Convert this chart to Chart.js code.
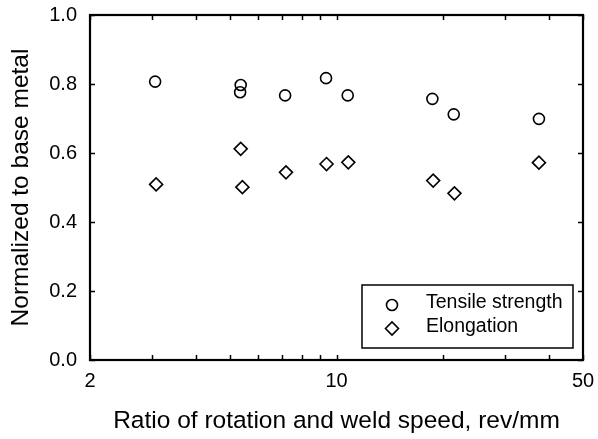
<!DOCTYPE html>
<html>
<head>
<meta charset="utf-8">
<script src="https://cdn.jsdelivr.net/npm/chart.js@4/dist/chart.umd.min.js"></script>
<style>
  html, body { margin: 0; padding: 0; background: #fff; }
  #wrap { width: 598px; height: 439px; }
</style>
</head>
<body>
<div id="wrap"><canvas id="chart" width="598" height="439"></canvas></div>
<script>
// rev/mm ratio vs normalized properties
const tensileRatio = [3.06, 5.35, 5.33, 7.15, 9.34, 10.76, 18.7, 21.5, 37.5];
const tensileValue = [0.807, 0.797, 0.776, 0.767, 0.817, 0.767, 0.757, 0.712, 0.699];
const elongRatio = [3.08, 5.35, 5.41, 7.19, 9.37, 10.8, 18.8, 21.6, 37.5];
const elongValue = [0.509, 0.612, 0.501, 0.544, 0.568, 0.573, 0.520, 0.483, 0.572];

const xTickValues = [2, 3, 4, 5, 6, 7, 8, 9, 10, 20, 30, 40, 50];
const xTickLabels = [2, 10, 50];
const seriesNames = ['Tensile strength', 'Elongation'];

const FONT = 'Arial, "Liberation Sans", Helvetica, sans-serif';

function toPoints(xs, ys) {
  return xs.map((x, i) => ({ x: x, y: ys[i] }));
}

// frame + inward tick marks on all four sides
const frameTicks = {
  id: 'frameTicks',
  afterDatasetsDraw(chart) {
    const { ctx, chartArea: a, scales } = chart;
    const len = 5;
    ctx.save();
    ctx.strokeStyle = '#000';
    ctx.lineWidth = 1.5;
    ctx.beginPath();
    scales.x.ticks.forEach(t => {
      const px = Math.round(scales.x.getPixelForValue(t.value)) + 0.5;
      ctx.moveTo(px, a.bottom); ctx.lineTo(px, a.bottom - len);
      ctx.moveTo(px, a.top); ctx.lineTo(px, a.top + len);
    });
    scales.y.ticks.forEach(t => {
      const py = Math.round(scales.y.getPixelForValue(t.value)) + 0.5;
      ctx.moveTo(a.left, py); ctx.lineTo(a.left + len, py);
      ctx.moveTo(a.right, py); ctx.lineTo(a.right - len, py);
    });
    ctx.stroke();
    ctx.lineWidth = 2.2;
    ctx.strokeRect(a.left, a.top, a.right - a.left, a.bottom - a.top);
    ctx.restore();
  }
};

// boxed legend in the lower right corner of the plot
const boxLegend = {
  id: 'boxLegend',
  afterDraw(chart) {
    const { ctx, chartArea: a } = chart;
    const w = 211, h = 63;
    const bx = a.right - 10 - w, by = a.bottom - 12 - h;
    ctx.save();
    ctx.fillStyle = '#fff';
    ctx.fillRect(bx, by, w, h);
    ctx.strokeStyle = '#000';
    ctx.lineWidth = 1.5;
    ctx.strokeRect(bx, by, w, h);
    chart.data.datasets.forEach((ds, i) => {
      const my = by + 20 + i * 23.5;
      ctx.strokeStyle = '#000';
      ctx.fillStyle = '#fff';
      ctx.lineWidth = ds.pointBorderWidth;
      Chart.helpers.drawPoint(ctx, {
        pointStyle: ds.pointStyle,
        radius: ds.pointRadius,
        rotation: 0,
        borderWidth: ds.pointBorderWidth
      }, bx + 30, my);
      ctx.fillStyle = '#000';
      ctx.font = '19.5px ' + FONT;
      ctx.textBaseline = 'middle';
      ctx.textAlign = 'left';
      ctx.fillText(ds.label, bx + 64, my - 2);
    });
    ctx.restore();
  }
};

new Chart(document.getElementById('chart'), {
  type: 'scatter',
  data: {
    datasets: [
      {
        label: seriesNames[0],
        data: toPoints(tensileRatio, tensileValue),
        pointStyle: 'circle',
        pointRadius: 5.5,
        pointBorderWidth: 1.6,
        pointBorderColor: '#000',
        pointBackgroundColor: 'rgba(255,255,255,0)'
      },
      {
        label: seriesNames[1],
        data: toPoints(elongRatio, elongValue),
        pointStyle: 'rectRot',
        pointRadius: 6.5,
        pointBorderWidth: 1.6,
        pointBorderColor: '#000',
        pointBackgroundColor: 'rgba(255,255,255,0)'
      }
    ]
  },
  options: {
    responsive: false,
    animation: false,
    layout: { padding: { left: 0, right: 15, top: 15, bottom: 0 } },
    plugins: {
      legend: { display: false },
      tooltip: { enabled: false }
    },
    scales: {
      x: {
        type: 'logarithmic',
        min: 2,
        max: 50,
        afterBuildTicks: scale => {
          scale.ticks = xTickValues.map(v => ({ value: v }));
        },
        afterFit: scale => {
          scale.height = 79;
          scale.paddingLeft = 0;
          scale.paddingRight = 0;
        },
        grid: { display: false, drawTicks: false },
        border: { display: false },
        ticks: {
          autoSkip: false,
          maxRotation: 0,
          padding: 9,
          color: '#000',
          font: { family: FONT, size: 20 },
          callback: v => xTickLabels.includes(v) ? String(v) : ''
        },
        title: {
          display: true,
          text: 'Ratio of rotation and weld speed, rev/mm',
          color: '#000',
          font: { family: FONT, size: 24.5 },
          padding: { top: 0, bottom: 3 }
        }
      },
      y: {
        min: 0,
        max: 1,
        afterFit: scale => {
          scale.width = 90;
          scale.paddingTop = 0;
          scale.paddingBottom = 0;
        },
        grid: { display: false, drawTicks: false },
        border: { display: false },
        ticks: {
          stepSize: 0.2,
          padding: 13,
          color: '#000',
          font: { family: FONT, size: 20 },
          callback: v => v.toFixed(1)
        },
        title: {
          display: true,
          text: 'Normalized to base metal',
          color: '#000',
          font: { family: FONT, size: 24.5 },
          padding: { top: 7, bottom: 0 }
        }
      }
    }
  },
  plugins: [frameTicks, boxLegend]
});
</script>
</body>
</html>
